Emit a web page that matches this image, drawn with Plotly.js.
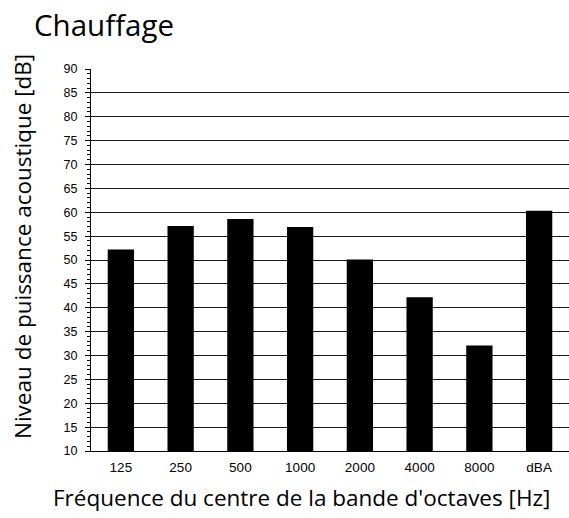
<!DOCTYPE html>
<html>
<head>
<meta charset="utf-8">
<script src="https://cdn.plot.ly/plotly-3.0.1.min.js"></script>
<style>html,body{margin:0;padding:0;background:#fff;}#chart{width:569px;height:518px;}</style>
</head>
<body>
<div id="chart"></div>
<script>
const categories = ["125", "250", "500", "1000", "2000", "4000", "8000", "dBA"];
const levels = [52.2, 57.1, 58.6, 56.9, 50.1, 42.2, 32.1, 60.3];
const yTickValues = [10, 15, 20, 25, 30, 35, 40, 45, 50, 55, 60, 65, 70, 75, 80, 85, 90];
const xTitle = "Fréquence du centre de la bande d'octaves [Hz]";
const yTitle = "Niveau de puissance acoustique [dB]";

const data = [{
  type: "bar",
  x: categories,
  y: levels,
  marker: {color: "#000000", line: {width: 0}},
  hoverinfo: "x+y"
}];

const layout = {
  width: 569,
  height: 518,
  margin: {l: 91, r: 0, t: 69, b: 67},
  paper_bgcolor: "#ffffff",
  plot_bgcolor: "#ffffff",
  showlegend: false,
  bargap: 0.56,
  title: {
    text: "Chauffage",
    font: {family: "Open Sans", size: 29.5, color: "#000000"},
    x: 34 / 569, xref: "container", xanchor: "left",
    y: 1 - 26 / 518, yref: "container", yanchor: "middle"
  },
  xaxis: {
    type: "category",
    showline: true, linecolor: "#000000", linewidth: 1,
    ticks: "", showgrid: false,
    ticklabelstandoff: 4,
    tickfont: {family: "Arial, Liberation Sans", size: 13.5, color: "#000000"}
  },
  yaxis: {
    range: [10, 90],
    tickmode: "array",
    tickvals: yTickValues,
    ticktext: yTickValues.map(String),
    showline: true, linecolor: "#000000", linewidth: 1,
    ticks: "outside", ticklen: 5, tickcolor: "#000000", tickwidth: 1,
    minor: {dtick: 1, ticks: "outside", ticklen: 3, tickcolor: "#000000", tickwidth: 1, showgrid: false},
    showgrid: true, gridcolor: "#1a1a1a", gridwidth: 1,
    zeroline: false,
    ticklabelstandoff: 5,
    tickfont: {family: "Arial, Liberation Sans", size: 12.5, color: "#000000"}
  },
  annotations: [
    {text: xTitle, xref: "paper", yref: "paper",
     x: (301 - 91) / 478, y: (451 - 497) / 382, xanchor: "center", yanchor: "middle",
     showarrow: false, font: {family: "Open Sans", size: 22.5, color: "#000000"}},
    {text: yTitle, xref: "paper", yref: "paper", textangle: -90,
     x: (22 - 91) / 478, y: (451 - 247) / 382, xanchor: "center", yanchor: "middle",
     showarrow: false, font: {family: "Open Sans", size: 22.5, color: "#000000"}}
  ]
};

Plotly.newPlot("chart", data, layout, {displayModeBar: false, staticPlot: true});
</script>
</body>
</html>
